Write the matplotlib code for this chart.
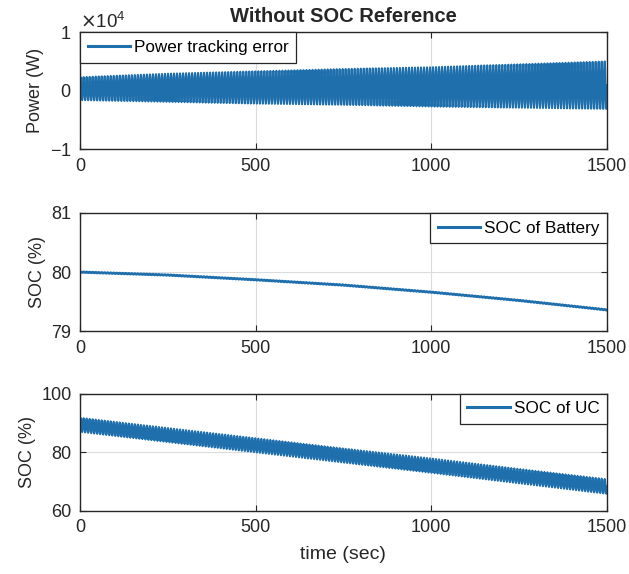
import numpy as np
import matplotlib.pyplot as plt
from matplotlib.ticker import ScalarFormatter

plt.rcParams['font.family'] = ['Liberation Sans', 'DejaVu Sans']
plt.rcParams['axes.unicode_minus'] = False

# envelope knots (time in sec)
t_knots = [0, 250, 500, 750, 1000, 1250, 1500]
# power tracking error envelope (W)
p_upper = [2300, 2900, 3300, 3700, 4000, 4500, 5000]
p_lower = [-1600, -1900, -2200, -2400, -2700, -2900, -3100]
# SOC of battery (%)
bat_soc = [80.0, 79.95, 79.87, 79.78, 79.66, 79.52, 79.36]
bat_ripple = 0.015
# SOC of UC envelope (%)
uc_upper = [91.8, 88.3, 84.8, 81.3, 77.9, 74.3, 70.8]
uc_lower = [87.0, 83.5, 80.0, 76.5, 73.0, 69.4, 65.8]
# one cycle of the ripple (0 = lower envelope, 1 = upper)
ripple_shape = [0.5, 0.9, 1.0, 0.85, 0.5, 0.15, 0.0, 0.1]
n_cycles = 175

t_end = 1500
n_pts = n_cycles * len(ripple_shape) + 1
t = np.linspace(0, t_end, n_pts)
shape = np.resize(ripple_shape, n_pts)

def band(lo, hi):
    lo = np.interp(t, t_knots, lo)
    hi = np.interp(t, t_knots, hi)
    return lo + (hi - lo) * shape

power_err = band(p_lower, p_upper)
bat = np.interp(t, t_knots, bat_soc) + bat_ripple * (shape - 0.5)
uc = band(uc_lower, uc_upper)

blue = '#1f6fad'
edge = '#262626'

fig = plt.figure(figsize=(6.29, 5.74), dpi=100)
pos = [[0.127, 0.740, 0.838, 0.204],
       [0.127, 0.423, 0.838, 0.206],
       [0.127, 0.110, 0.838, 0.204]]
axs = [fig.add_axes(p) for p in pos]

def style(ax):
    ax.set_xlim(0, 1500)
    ax.set_xticks([0, 500, 1000, 1500])
    ax.grid(True, color='#dcdcdc', linewidth=0.8)
    ax.set_axisbelow(True)
    ax.tick_params(direction='in', top=True, right=True, labelsize=13,
                   colors=edge, length=4, pad=6)
    for s in ax.spines.values():
        s.set_color(edge)
        s.set_linewidth(1.0)

def add_legend(ax, loc):
    leg = ax.legend(loc=loc, fontsize=12.3, fancybox=False, edgecolor=edge,
                    framealpha=1, borderaxespad=0.0, handlelength=2.5,
                    handletextpad=0.2, borderpad=0.45)
    leg.get_frame().set_linewidth(0.9)
    for h in leg.legend_handles:
        h.set_linewidth(2.2)

ax = axs[0]
ax.plot(t, power_err, color=blue, linewidth=1.5, label='Power tracking error')
ax.set_ylim(-10000, 10000)
ax.set_yticks([-10000, 0, 10000])
fmt = ScalarFormatter(useMathText=True)
fmt.set_powerlimits((0, 0))
ax.yaxis.set_major_formatter(fmt)
ax.set_ylabel('Power (W)', fontsize=13, color=edge)
ax.set_title('Without SOC Reference', fontsize=14.5, fontweight='bold', color=edge, pad=7)
style(ax)
ax.yaxis.get_offset_text().set_fontsize(13.5)
add_legend(ax, 'upper left')

ax = axs[1]
ax.plot(t, bat, color=blue, linewidth=1.8, label='SOC of Battery')
ax.set_ylim(79, 81)
ax.set_yticks([79, 80, 81])
ax.set_ylabel('SOC (%)', fontsize=13, color=edge)
style(ax)
add_legend(ax, 'upper right')

ax = axs[2]
ax.plot(t, uc, color=blue, linewidth=1.5, label='SOC of UC')
ax.set_ylim(60, 100)
ax.set_yticks([60, 80, 100])
ax.set_ylabel('SOC (%)', fontsize=13, color=edge)
ax.set_xlabel('time (sec)', fontsize=14, color=edge, labelpad=7)
style(ax)
add_legend(ax, 'upper right')

fig.savefig('out.png', dpi=100)
